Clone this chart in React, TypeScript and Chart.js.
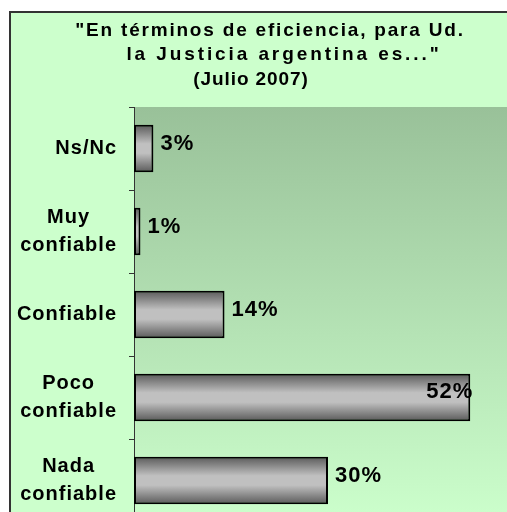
import React, { useEffect, useRef } from "react";
import { Chart, registerables } from "chart.js";

Chart.register(...registerables);

const titleLines = ['"En términos de eficiencia, para Ud.', 'la Justicia argentina es..."', "(Julio 2007)"];
const categories: (string | string[])[] = ["Ns/Nc", ["Muy", "confiable"], "Confiable", ["Poco", "confiable"], ["Nada", "confiable"]];
const values = [3, 1, 14, 52, 30];
const xMax = 60;

const FONT = "'Liberation Sans', Arial, sans-serif";

// title layout (canvas coordinates): per-line centre x, baseline y and letter spacing
const TITLE_CENTERS = [261, 275, 242];
const TITLE_BASELINES = [24.7, 49.2, 73.7];
const TITLE_SPACING = ["1.8px", "2.9px", "0.9px"];

const backgroundPlugin = {
  id: "bg",
  beforeDraw(chart: any) {
    const { ctx, chartArea, width, height } = chart;
    if (!chartArea) return;
    ctx.save();
    ctx.fillStyle = "#CCFFCC";
    ctx.fillRect(0, 0, width, height);
    const g = ctx.createLinearGradient(0, chartArea.top, 0, chartArea.bottom);
    g.addColorStop(0, "#99C199");
    g.addColorStop(1, "#CCFFCC");
    ctx.fillStyle = g;
    ctx.fillRect(chartArea.left, chartArea.top, chartArea.right - chartArea.left, chartArea.bottom - chartArea.top);
    ctx.strokeStyle = "#333333";
    ctx.lineWidth = 2;
    ctx.strokeRect(1, 1, width + 10, height + 10);
    ctx.restore();
  },
};

const titlePlugin = {
  id: "customTitle",
  afterDraw(chart: any) {
    const { ctx } = chart;
    ctx.save();
    ctx.font = `bold 19px ${FONT}`;
    ctx.fillStyle = "#000000";
    ctx.textAlign = "center";
    ctx.textBaseline = "alphabetic";
    titleLines.forEach((line, i) => {
      ctx.letterSpacing = TITLE_SPACING[i];
      ctx.fillText(line, TITLE_CENTERS[i], TITLE_BASELINES[i]);
    });
    ctx.restore();
  },
};

const categoryLabelPlugin = {
  id: "categoryLabels",
  afterDraw(chart: any) {
    const { ctx, chartArea } = chart;
    const yScale = chart.scales.y;
    const lineH = 28.5;
    const right = chartArea.left - 17;
    ctx.save();
    ctx.letterSpacing = "1px";
    ctx.font = `bold 20px ${FONT}`;
    ctx.fillStyle = "#000000";
    ctx.textAlign = "center";
    ctx.textBaseline = "middle";
    categories.forEach((label, i) => {
      const lines = Array.isArray(label) ? label : [label];
      const w = Math.max(...lines.map((l) => ctx.measureText(l).width));
      const cx = right - w / 2;
      const cy = yScale.getPixelForValue(i);
      lines.forEach((l, j) => {
        ctx.fillText(l, cx, cy + (j - (lines.length - 1) / 2) * lineH);
      });
    });
    ctx.restore();
  },
};

const labelPlugin = {
  id: "valueLabels",
  afterDatasetsDraw(chart: any) {
    const { ctx } = chart;
    const meta = chart.getDatasetMeta(0);
    const maxVal = Math.max(...values);
    ctx.save();
    ctx.letterSpacing = "1px";
    ctx.font = `bold 22px ${FONT}`;
    ctx.fillStyle = "#000000";
    ctx.textBaseline = "middle";
    meta.data.forEach((bar: any, i: number) => {
      const v = values[i];
      const text = `${v}%`;
      if (v === maxVal) {
        ctx.textAlign = "right";
        ctx.fillText(text, bar.x + 3, bar.y - 6);
      } else {
        ctx.textAlign = "left";
        ctx.fillText(text, bar.x + 7, bar.y - 5);
      }
    });
    ctx.restore();
  },
};

const BAR_PCT = 0.57;

export default function App() {
  const ref = useRef<HTMLCanvasElement>(null);
  useEffect(() => {
    if (!ref.current) return;
    const chart = new Chart(ref.current, {
      type: "bar",
      data: {
        labels: categories,
        datasets: [
          {
            data: values,
            backgroundColor: (c: any) => {
              const ch = c.chart;
              const y = ch.scales?.y;
              if (c.dataIndex === undefined || !y) return "#BFBFBF";
              const center = y.getPixelForValue(c.dataIndex);
              const step = Math.abs(y.getPixelForValue(1) - y.getPixelForValue(0));
              const half = (step * BAR_PCT) / 2;
              if (!isFinite(center) || !isFinite(half) || half <= 0) return "#BFBFBF";
              const g = ch.ctx.createLinearGradient(0, center - half, 0, center + half);
              g.addColorStop(0, "#5A5A5A");
              g.addColorStop(0.4, "#C0C0C0");
              g.addColorStop(0.6, "#C0C0C0");
              g.addColorStop(1, "#5A5A5A");
              return g;
            },
            borderColor: "#000000",
            borderWidth: 2,
            borderSkipped: false,
            barPercentage: BAR_PCT,
            categoryPercentage: 1,
          },
        ],
      },
      options: {
        indexAxis: "y",
        responsive: false,
        animation: false,
        devicePixelRatio: 1,
        layout: { padding: { top: 96, left: 0, right: 5, bottom: 4 } },
        plugins: {
          legend: { display: false },
          tooltip: { enabled: false },
          title: { display: false },
        },
        scales: {
          x: { display: false, min: 0, max: xMax },
          y: {
            afterFit: (s: any) => {
              s.width = 125;
              s.paddingTop = 0;
              s.paddingBottom = 0;
            },
            grid: { drawOnChartArea: false, drawTicks: true, tickLength: 5, color: "#333333", offset: true },
            border: { display: true, color: "#333333", width: 1 },
            ticks: { display: false },
          },
        },
      },
      plugins: [backgroundPlugin, labelPlugin, categoryLabelPlugin, titlePlugin],
    } as any);
    return () => chart.destroy();
  }, []);

  return (
    <div style={{ position: "fixed", left: 0, top: 0, width: 507, height: 512, overflow: "hidden", background: "#FFFFFF" }}>
      <canvas ref={ref} width={518} height={515} style={{ position: "absolute", left: 9, top: 11, display: "block" }} />
    </div>
  );
}
